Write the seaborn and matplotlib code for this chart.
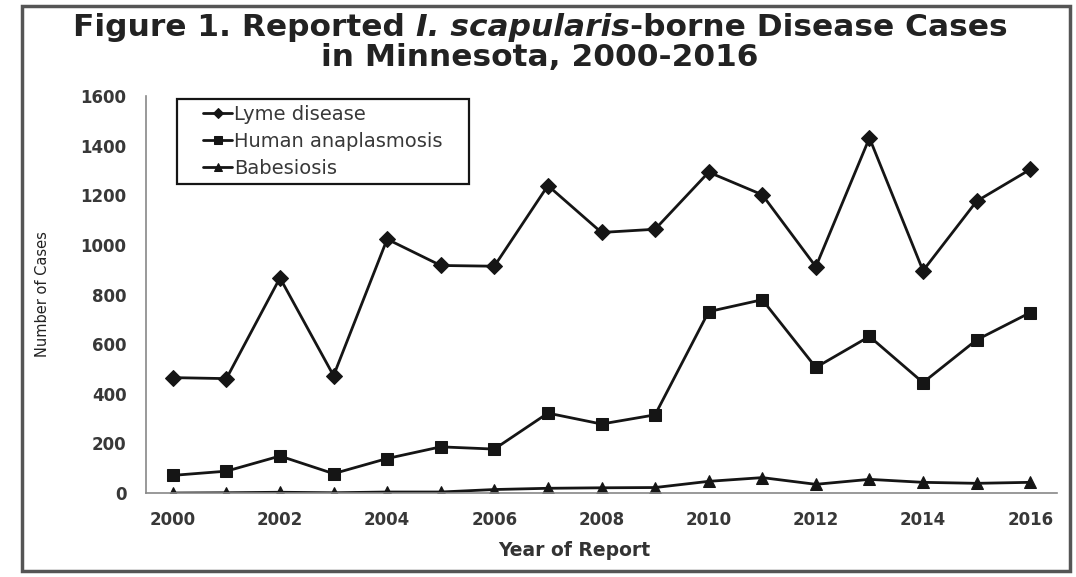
import matplotlib
matplotlib.use("Agg")
import matplotlib.pyplot as plt
import seaborn as sns
import pandas as pd
from matplotlib.patches import Rectangle

years = list(range(2000, 2017))
lyme = [465, 461, 867, 473, 1023, 917, 914, 1239, 1050, 1063, 1293, 1202, 912, 1431, 896, 1176, 1304]
anaplasmosis = [71, 88, 149, 78, 139, 186, 177, 322, 278, 315, 731, 779, 506, 631, 445, 617, 727]
babesiosis = [0, 1, 3, 1, 4, 4, 14, 19, 21, 22, 47, 62, 35, 55, 43, 39, 43]
series_names = ["Lyme disease", "Human anaplasmosis", "Babesiosis"]
y_ticks = [0, 200, 400, 600, 800, 1000, 1200, 1400, 1600]

sns.set_theme(style="white")
plt.rcParams["font.family"] = ["DejaVu Sans"]

rows = []
for name, vals in zip(series_names, [lyme, anaplasmosis, babesiosis]):
    for i, (yr, v) in enumerate(zip(years, vals)):
        rows.append({"pos": i, "year": yr, "cases": v, "disease": name})
df = pd.DataFrame(rows)

W, H = 1076, 577
fig = plt.figure(figsize=(W / 100, H / 100), dpi=100)
ax_left, ax_right, ax_top, ax_bottom = 146, 1057, 96, 493
ax = fig.add_axes([ax_left / W, 1 - ax_bottom / H, (ax_right - ax_left) / W,
                   (ax_bottom - ax_top) / H])

sns.lineplot(
    data=df, x="pos", y="cases", hue="disease", style="disease",
    hue_order=series_names, style_order=series_names,
    palette=["#151515"] * 3,
    markers={"Lyme disease": "D", "Human anaplasmosis": "s", "Babesiosis": "^"},
    dashes=False, markersize=8, linewidth=2.0, markeredgecolor="#151515",
    ax=ax, legend=True,
)

ax.set_xlim(-0.5, len(years) - 0.5)
ax.set_ylim(0, 1600)
ax.set_yticks(y_ticks)
ax.set_yticklabels([str(t) for t in y_ticks], fontsize=12, color="#383838",
                   fontweight="bold")

# category boundaries carry the tick marks; labels sit on every other year
ax.set_xticks([i - 0.5 for i in range(len(years) + 1)])
ax.set_xticklabels([])
ax.set_xticks(list(range(0, len(years), 2)), minor=True)
ax.set_xticklabels([str(years[i]) for i in range(0, len(years), 2)], minor=True,
                   fontsize=12, color="#383838", fontweight="bold")
ax.tick_params(axis="x", which="major", direction="out", length=5, width=1, color="#888888")
ax.tick_params(axis="x", which="minor", length=0, pad=13)
ax.tick_params(axis="y", direction="out", length=5, width=1, color="#888888", pad=9)

for side in ["top", "right"]:
    ax.spines[side].set_visible(False)
for side in ["left", "bottom"]:
    ax.spines[side].set_color("#888888")
    ax.spines[side].set_linewidth(1.2)

ax.set_xlabel("Year of Report", fontsize=13.5, fontweight="bold", color="#333333")
ax.xaxis.set_label_coords((574 - ax_left) / (ax_right - ax_left), -48 / (ax_bottom - ax_top))
ax.set_ylabel("Number of Cases", fontsize=10.5, color="#222222", labelpad=22,
              family=["Liberation Sans Narrow", "DejaVu Sans"])

# legend entries without a frame; the box is drawn around them below
leg = ax.legend(
    loc="upper left",
    bbox_to_anchor=((203 - ax_left) / (ax_right - ax_left), (ax_bottom - 105) / (ax_bottom - ax_top)),
    frameon=False, fontsize=14, handlelength=1.5, handletextpad=0.1, borderpad=0.0,
    labelspacing=0.4, borderaxespad=0.0, title=None, markerscale=0.7,
)
for t in leg.get_texts():
    t.set_color("#383838")

# two-line title with the italic genus name
fig.canvas.draw()
renderer = fig.canvas.get_renderer()

lb = leg.get_window_extent(renderer)
pad_x, pad_y = 26, 6
fig.patches.append(Rectangle((lb.x0 - pad_x, lb.y0 - pad_y), lb.width + 2 * pad_x,
                             lb.height + 2 * pad_y, transform=None, fill=False,
                             edgecolor="#151515", linewidth=1.6, zorder=5))


def centered_line(parts, y_px, size):
    texts = []
    total = 0
    for s, style in parts:
        t = fig.text(0, 1 - y_px / H, s, fontsize=size, fontweight="bold",
                     fontstyle=style, va="center", ha="left", color="#222222")
        w = t.get_window_extent(renderer).width
        texts.append((t, w))
        total += w
    x = (fig.bbox.width - total) / 2 + 2
    for t, w in texts:
        t.set_x(x / fig.bbox.width)
        x += w


centered_line([("Figure 1. Reported ", "normal"), ("I. scapularis", "italic"),
               ("-borne Disease Cases", "normal")], 28, 22.5)
centered_line([("in Minnesota, 2000-2016", "normal")], 58, 22.5)

# outer frame around the figure
fig.patches.append(Rectangle((22 / W, 1 - 571 / H), (1070 - 22) / W, (571 - 6) / H,
                             transform=fig.transFigure, fill=False, edgecolor="#555555",
                             linewidth=2.5))

fig.savefig("out.png", dpi=100)
